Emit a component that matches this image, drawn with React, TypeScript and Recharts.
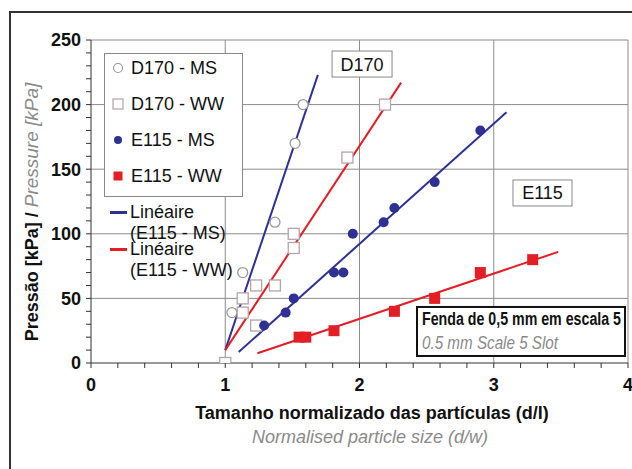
import { ScatterChart, Scatter, XAxis, YAxis, CartesianGrid, ReferenceDot } from "recharts";

const d170Ms = [
  { x: 1.05, y: 39 },
  { x: 1.13, y: 70 },
  { x: 1.37, y: 109 },
  { x: 1.52, y: 170 },
  { x: 1.58, y: 200 },
];

const d170Ww = [
  { x: 1.0, y: 0 },
  { x: 1.13, y: 39 },
  { x: 1.13, y: 50 },
  { x: 1.23, y: 60 },
  { x: 1.37, y: 60 },
  { x: 1.23, y: 29 },
  { x: 1.51, y: 100 },
  { x: 1.51, y: 89 },
  { x: 1.91, y: 159 },
  { x: 2.19, y: 200 },
];

const e115Ms = [
  { x: 1.29, y: 29 },
  { x: 1.45, y: 39 },
  { x: 1.51, y: 50 },
  { x: 1.81, y: 70 },
  { x: 1.88, y: 70 },
  { x: 1.95, y: 100 },
  { x: 2.18, y: 109 },
  { x: 2.26, y: 120 },
  { x: 2.56, y: 140 },
  { x: 2.9, y: 180 },
];

const e115Ww = [
  { x: 1.55, y: 20 },
  { x: 1.6, y: 20 },
  { x: 1.81, y: 25 },
  { x: 2.26, y: 40 },
  { x: 2.56, y: 50 },
  { x: 2.9, y: 70 },
  { x: 3.29, y: 80 },
];

// linear fits (start and end of each drawn segment)
const fitD170Ms = [
  { x: 1.0, y: 10 },
  { x: 1.69, y: 223 },
];
const fitD170Ww = [
  { x: 1.0, y: 10 },
  { x: 2.31, y: 217 },
];
const fitE115Ms = [
  { x: 1.1, y: 8.5 },
  { x: 3.095, y: 194 },
];
const fitE115Ww = [
  { x: 1.24, y: 7.5 },
  { x: 3.48, y: 86 },
];

const xTicks = [0, 0.2, 0.4, 0.6, 0.8, 1, 1.2, 1.4, 1.6, 1.8, 2, 2.2, 2.4, 2.6, 2.8, 3, 3.2, 3.4, 3.6, 3.8, 4];
const yTicks = [0, 10, 20, 30, 40, 50, 60, 70, 80, 90, 100, 110, 120, 130, 140, 150, 160, 170, 180, 190, 200, 210, 220, 230, 240, 250];
const xMajor = [1, 2, 3, 4];
const yMajor = [50, 100, 150, 200, 250];

const NAVY = "#2e3192";
const RED = "#e31e24";
const GREY_CIRCLE = "#9a9a9a";
const GREY_SQUARE = "#b5a3a7";
const FONT = "Liberation Sans, Arial, sans-serif";

const XTick = (props: any) => {
  const { x, y, payload } = props;
  if (Math.abs(payload.value - Math.round(payload.value)) > 1e-6) return <g />;
  return (
    <text x={x} y={y} dy="0.71em" textAnchor="middle" fontSize={18} fontWeight="bold" fill="#111" fontFamily={FONT}>
      {payload.value}
    </text>
  );
};

const YTick = (props: any) => {
  const { x, y, payload } = props;
  if (payload.value % 50 !== 0) return <g />;
  return (
    <text x={x} y={y} dy="0.36em" textAnchor="end" fontSize={18} fontWeight="bold" fill="#111" fontFamily={FONT}>
      {payload.value}
    </text>
  );
};

const YLabel = () => (
  <text transform="translate(38, 212) rotate(-90)" textAnchor="middle" fontSize={18} fontFamily={FONT}>
    <tspan fontWeight="bold" fill="#111">Pressão [kPa] / </tspan>
    <tspan fontStyle="italic" fill="#8a8a8a" fontSize={19}>Pressure [kPa]</tspan>
  </text>
);

const XLabel = () => (
  <g fontFamily={FONT} textAnchor="middle">
    <text x={372} y={419} fontSize={18} fontWeight="bold" fill="#111">
      Tamanho normalizado das partículas (d/l)
    </text>
    <text x={370} y={443} fontSize={18} fontStyle="italic" fill="#8a8a8a">
      Normalised particle size (d/w)
    </text>
  </g>
);

const openCircle = (p: any) => <circle cx={p.cx} cy={p.cy} r={5} fill="#fff" stroke={GREY_CIRCLE} strokeWidth={1.3} />;
const openSquare = (p: any) => <rect x={p.cx - 5.5} y={p.cy - 5.5} width={11} height={11} fill="#fff" stroke={GREY_SQUARE} strokeWidth={1.3} />;
const navyDot = (p: any) => <circle cx={p.cx} cy={p.cy} r={5} fill={NAVY} />;
const redSquare = (p: any) => <rect x={p.cx - 5.5} y={p.cy - 5.5} width={11} height={11} fill={RED} />;
const noDot = () => <g />;

const boxLabel = (text: string, w: number, h: number) => (p: any) => (
  <g>
    <rect x={p.cx - w / 2} y={p.cy - h / 2} width={w} height={h} fill="#fff" stroke="#888" strokeWidth={1} />
    <text x={p.cx} y={p.cy} dy="0.36em" textAnchor="middle" fontSize={18} fill="#111" fontFamily={FONT}>
      {text}
    </text>
  </g>
);

const slotNote = (p: any) => (
  <g fontFamily={FONT}>
    <rect x={p.cx - 104} y={p.cy - 24.5} width={208} height={49} fill="#fff" stroke="#111" strokeWidth={2} />
    <text x={p.cx - 99} y={p.cy - 6} fontSize={18} fontWeight="bold" fill="#111" textLength={199} lengthAdjust="spacingAndGlyphs">
      Fenda de 0,5 mm em escala 5
    </text>
    <text x={p.cx - 99} y={p.cy + 18} fontSize={18} fontStyle="italic" fill="#8a8a8a" textLength={136} lengthAdjust="spacingAndGlyphs">
      0.5 mm Scale 5 Slot
    </text>
  </g>
);

const legendRows = [
  { label: "D170 - MS", marker: <circle cx={7} cy={7} r={4.5} fill="#fff" stroke={GREY_CIRCLE} strokeWidth={1.2} /> },
  { label: "D170 - WW", marker: <rect x={2} y={2} width={10} height={10} fill="#fff" stroke={GREY_SQUARE} strokeWidth={1.2} /> },
  { label: "E115 - MS", marker: <circle cx={7} cy={7} r={4} fill={NAVY} /> },
  { label: "E115 - WW", marker: <rect x={2.5} y={2.5} width={9} height={9} fill={RED} /> },
];

const fitRows = [
  { label: ["Linéaire", "(E115 - MS)"], color: NAVY, top: 202 },
  { label: ["Linéaire", "(E115 - WW)"], color: RED, top: 239 },
];

const LegendOverlay = () => (
  <>
    <div
      style={{
        position: "absolute",
        left: 104,
        top: 53,
        width: 137,
        height: 142,
        border: "1px solid #888",
        background: "#fff",
        fontFamily: FONT,
        fontSize: 18,
        color: "#111",
      }}
    >
      {legendRows.map((r, i) => (
        <div key={r.label} style={{ position: "absolute", left: 6, top: 3 + i * 36, height: 22, display: "flex", alignItems: "center" }}>
          <svg width={14} height={14} style={{ marginRight: 6 }}>
            {r.marker}
          </svg>
          <span>{r.label}</span>
        </div>
      ))}
    </div>
    {fitRows.map((r) => (
      <div
        key={r.label[1]}
        style={{ position: "absolute", left: 110, top: r.top, fontFamily: FONT, fontSize: 18, color: "#111", lineHeight: "21px" }}
      >
        <div style={{ display: "flex", alignItems: "center" }}>
          <div style={{ width: 17, height: 2.5, background: r.color, marginRight: 3 }} />
          <span>{r.label[0]}</span>
        </div>
        <div style={{ marginLeft: 20 }}>{r.label[1]}</div>
      </div>
    ))}
  </>
);

export default function App() {
  return (
    <div style={{ position: "absolute", left: 0, top: 0, width: 632, height: 469, background: "#fff", overflow: "hidden" }}>
      <div style={{ position: "absolute", left: 9, top: 11, width: 700, height: 500, borderLeft: "2px solid #333", borderTop: "2px solid #333" }} />
      <ScatterChart width={632} height={469} margin={{ top: 40, right: 4, bottom: 76, left: 31 }}>
        <CartesianGrid stroke="#8c8c8c" strokeWidth={1} horizontalValues={yMajor} verticalValues={xMajor} />
        <XAxis
          type="number"
          dataKey="x"
          domain={[0, 4]}
          ticks={xTicks}
          interval={0}
          height={30}
          tickSize={5}
          tickMargin={10}
          tick={<XTick />}
          stroke="#333"
          tickLine={{ stroke: "#333" }}
          allowDataOverflow
        />
        <YAxis
          type="number"
          dataKey="y"
          domain={[0, 250]}
          ticks={yTicks}
          interval={0}
          width={60}
          tickSize={5}
          tickMargin={5}
          tick={<YTick />}
          stroke="#333"
          tickLine={{ stroke: "#333" }}
          allowDataOverflow
        />
        <Scatter data={fitD170Ms} line={{ stroke: NAVY, strokeWidth: 2 }} shape={noDot} isAnimationActive={false} />
        <Scatter data={fitD170Ww} line={{ stroke: RED, strokeWidth: 2 }} shape={noDot} isAnimationActive={false} />
        <Scatter data={fitE115Ms} line={{ stroke: NAVY, strokeWidth: 2 }} shape={noDot} isAnimationActive={false} />
        <Scatter data={fitE115Ww} line={{ stroke: RED, strokeWidth: 2 }} shape={noDot} isAnimationActive={false} />
        <Scatter data={d170Ms} shape={openCircle} isAnimationActive={false} />
        <Scatter data={d170Ww} shape={openSquare} isAnimationActive={false} />
        <Scatter data={e115Ms} shape={navyDot} isAnimationActive={false} />
        <Scatter data={e115Ww} shape={redSquare} isAnimationActive={false} />
        <ReferenceDot x={2.019} y={231.4} r={0} shape={boxLabel("D170", 60, 26)} />
        <ReferenceDot x={3.363} y={131.6} r={0} shape={boxLabel("E115", 59, 26)} />
        <ReferenceDot x={3.203} y={24.4} r={0} shape={slotNote} />
      </ScatterChart>
      <svg width={632} height={469} style={{ position: "absolute", left: 0, top: 0, pointerEvents: "none" }}>
        <YLabel />
        <XLabel />
      </svg>
      <LegendOverlay />
    </div>
  );
}
